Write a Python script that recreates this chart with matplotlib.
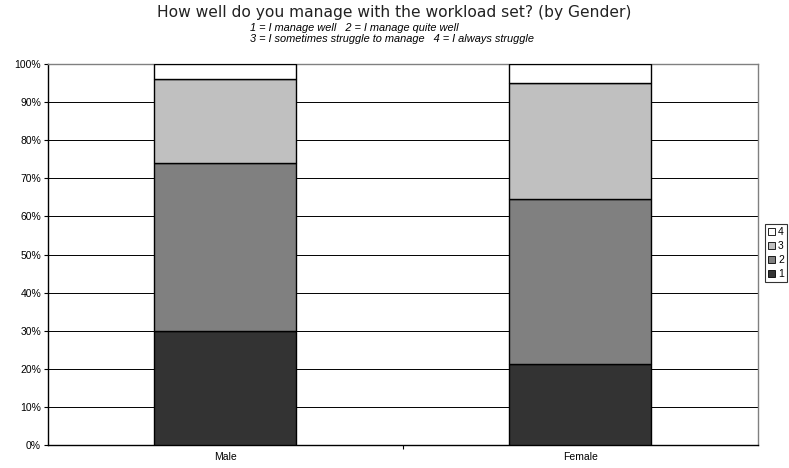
import matplotlib
matplotlib.use('Agg')
import matplotlib.pyplot as plt
import matplotlib.patches as mpatches
from matplotlib.ticker import PercentFormatter, FixedLocator

plt.rcParams['font.family'] = ['Liberation Sans', 'DejaVu Sans']

genders = ['Male', 'Female']
# percentage of responses per answer (1..4)
resp_1 = [30.0, 21.3]
resp_2 = [44.0, 43.4]
resp_3 = [22.1, 30.2]
resp_4 = [3.9, 5.1]
answers = ['1', '2', '3', '4']
colors = ['#333333', '#808080', '#c0c0c0', '#ffffff']

fig = plt.figure(figsize=(7.89, 4.68), dpi=100)
ax = fig.add_axes([0.0608, 0.0491, 0.8999, 0.8141])

x = range(len(genders))
bottom = [0, 0]
for vals, c in zip([resp_1, resp_2, resp_3, resp_4], colors):
    ax.bar(x, vals, width=0.40, bottom=bottom, color=c, edgecolor='black',
           linewidth=1.0, zorder=3)
    bottom = [b + v for b, v in zip(bottom, vals)]

ax.set_xlim(-0.5, 1.5)
ax.set_ylim(0, 100)
ax.set_yticks(range(0, 101, 10))
ax.yaxis.set_major_formatter(PercentFormatter(decimals=0))
ax.yaxis.grid(True, color='black', linewidth=0.7, zorder=0)

ax.set_xticks(list(x))
ax.set_xticklabels(genders)
ax.xaxis.set_minor_locator(FixedLocator([0.5]))
ax.tick_params(axis='x', which='major', length=0, labelsize=7.5, pad=5)
ax.tick_params(axis='x', which='minor', length=3, width=0.8, direction='out')
ax.tick_params(axis='y', length=3, width=0.8, labelsize=7.5, pad=2)

ax.spines['left'].set_color('black')
ax.spines['bottom'].set_color('black')
ax.spines['top'].set_color('#808080')
ax.spines['right'].set_color('#808080')
for s in ax.spines.values():
    s.set_linewidth(1.0)

fig.text(0.5, 0.974, 'How well do you manage with the workload set? (by Gender)',
         ha='center', va='center', fontsize=11.2, family='DejaVu Sans', color='#222222')
fig.text(0.317, 0.941, '1 = I manage well   2 = I manage quite well',
         ha='left', va='center', fontsize=7.9, style='italic')
fig.text(0.317, 0.917, '3 = I sometimes struggle to manage   4 = I always struggle',
         ha='left', va='center', fontsize=7.9, style='italic')

handles = [mpatches.Patch(facecolor=c, edgecolor='black', linewidth=0.6, label=l)
           for c, l in zip(colors[::-1], answers[::-1])]
leg = fig.legend(handles=handles, loc='upper left', bbox_to_anchor=(0.969, 0.522),
                 fontsize=7.5, frameon=True, fancybox=False, handlelength=0.7,
                 handleheight=0.7, handletextpad=0.3, labelspacing=0.4,
                 borderpad=0.3, borderaxespad=0)
leg.get_frame().set_edgecolor('black')
leg.get_frame().set_linewidth(0.8)

plt.savefig('out.png', dpi=100)
